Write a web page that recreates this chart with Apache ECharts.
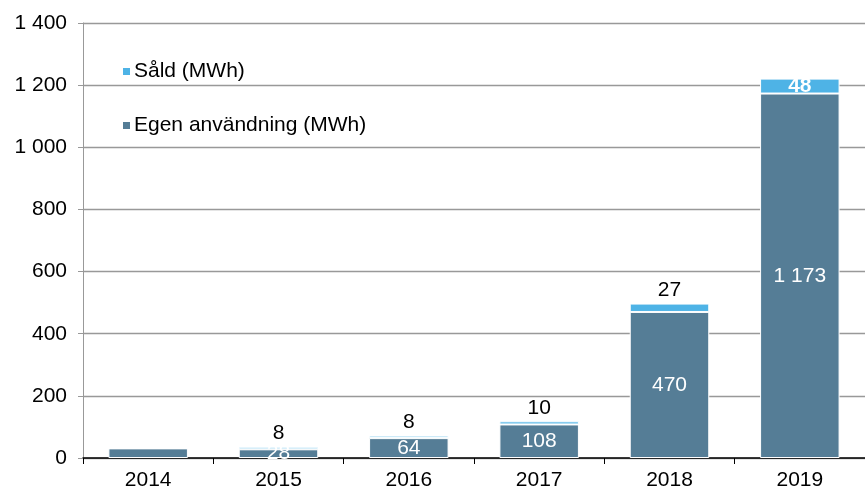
<!DOCTYPE html>
<html><head><meta charset="utf-8">
<script src="https://cdn.jsdelivr.net/npm/echarts@6/dist/echarts.min.js"></script>
<style>html,body{margin:0;padding:0;background:#fff}#c{width:865px;height:492px}</style>
</head><body><div id="c"></div>
<script>
const years = ['2014','2015','2016','2017','2018','2019'];
const egen = [31, 28, 64, 108, 470, 1173];
const sald = [0, 8, 8, 10, 27, 48];
const egenLabels = [false, true, true, true, true, true];
const saldLabelInside = [false, false, false, false, false, true];

function fmt(v){ return String(v).replace(/\B(?=(\d{3})+(?!\d))/g, ' '); }
const FONT = 'Liberation Sans, Arial, sans-serif';
const chart = echarts.init(document.getElementById('c'));
chart.setOption({
  animation:false,
  grid:{left:83,right:0,top:23,bottom:34,containLabel:false},
  legend:{
    orient:'vertical', left:116, top:56, itemGap:33,
    itemWidth:9, itemHeight:9, icon:'rect',
    textStyle:{fontFamily:FONT,fontSize:21,color:'#000',padding:[0,0,0,-2]},
    data:['Såld (MWh)','Egen användning (MWh)']
  },
  xAxis:{
    type:'category', data:years,
    axisLine:{lineStyle:{color:'#000',width:1.5}},
    axisTick:{show:true,length:6,lineStyle:{color:'#000'}},
    axisLabel:{fontFamily:FONT,fontSize:21,color:'#000',margin:12}
  },
  yAxis:{
    type:'value', min:0, max:1400, interval:200,
    axisLine:{show:true,lineStyle:{color:'#999'}},
    axisTick:{show:true,length:5,lineStyle:{color:'#999'}},
    splitLine:{lineStyle:{color:'#999',width:1.3}},
    axisLabel:{fontFamily:FONT,fontSize:21,color:'#000',margin:16,formatter:fmt}
  },
  series:[
    {
      name:'Egen användning (MWh)', type:'bar', stack:'a', barWidth:'61%',
      itemStyle:{color:'#557d96',borderColor:'#fff',borderWidth:1},
      data:egen.map((v,i)=>({value:v,label:{show:egenLabels[i]}})),
      label:{show:true,position:'inside',color:'#fff',fontFamily:FONT,fontSize:21,formatter:p=>fmt(p.value)}
    },
    {
      name:'Såld (MWh)', type:'bar', stack:'a', barWidth:'61%',
      itemStyle:{color:'#4eb3e6',borderColor:'#fff',borderWidth:1},
      data:sald.map((v,i)=>({value:v,label: saldLabelInside[i]
        ? {show:true,position:'inside',color:'#fff',fontWeight:'bold'}
        : {show:v>0,position:'top',color:'#000',distance:3}})),
      label:{fontFamily:FONT,fontSize:21,formatter:p=>fmt(p.value)}
    }
  ]
});
</script></body></html>
